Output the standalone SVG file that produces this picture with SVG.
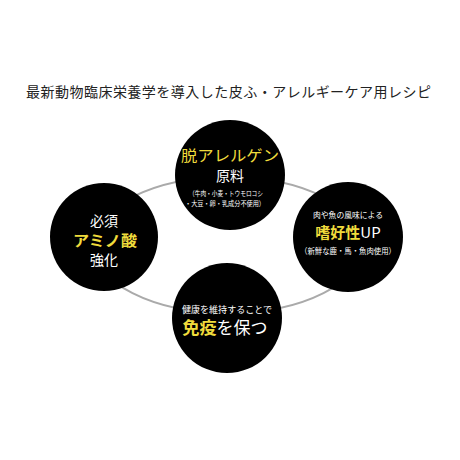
<svg xmlns="http://www.w3.org/2000/svg" width="460" height="460" viewBox="0 0 460 460">
<style>
text{font-family:"Noto Sans CJK JP","Noto Sans",sans-serif;text-anchor:middle}
.c{fill:#000}
.w{fill:#fff}
.y{fill:#f0dc3c}
.t{fill:#222;font-size:14px;text-anchor:start}
</style>
<rect width="460" height="460" fill="#fff"/>
<text class="t" x="26" y="97" textLength="405" lengthAdjust="spacing">最新動物臨床栄養学を導入した皮ふ・アレルギーケア用レシピ</text>
<g id="connectors">
<ellipse cx="228" cy="245" rx="135" ry="68" fill="none" stroke="#aaa" stroke-width="2"/>
</g>
<g id="top">
<circle class="c" cx="230" cy="175" r="55"/>
<text class="y" x="230" y="161" font-size="15" textLength="98" lengthAdjust="spacingAndGlyphs">脱アレルゲン</text>
<text class="w" x="230" y="181" font-size="14">原料</text>
<text class="w" x="226" y="196" font-size="7" textLength="74" lengthAdjust="spacingAndGlyphs">（牛肉・小麦・トウモロコシ</text>
<text class="w" x="225" y="206" font-size="7" textLength="80" lengthAdjust="spacingAndGlyphs">・大豆・卵・乳成分不使用）</text>
</g>
<g id="right">
<circle class="c" cx="348" cy="237" r="55"/>
<text class="w" x="348" y="218" font-size="8" textLength="70" lengthAdjust="spacingAndGlyphs">肉や魚の風味による</text>
<text x="348" y="238" font-size="15" font-weight="bold"><tspan class="y">嗜好性</tspan><tspan class="w" font-weight="normal">UP</tspan></text>
<text class="w" x="348" y="254" font-size="8" textLength="96" lengthAdjust="spacingAndGlyphs">（新鮮な鹿・馬・魚肉使用）</text>
</g>
<g id="left">
<circle class="c" cx="104" cy="237" r="54"/>
<text class="w" x="104" y="226" font-size="14">必須</text>
<text class="y" x="105" y="246" font-size="15" font-weight="bold" textLength="64" lengthAdjust="spacingAndGlyphs">アミノ酸</text>
<text class="w" x="104" y="265" font-size="14">強化</text>
</g>
<g id="bottom">
<circle class="c" cx="227" cy="318" r="55"/>
<text class="w" x="227" y="313" font-size="9" textLength="90" lengthAdjust="spacingAndGlyphs">健康を維持することで</text>
<text x="225" y="334" font-size="17"><tspan class="y" font-weight="bold">免疫</tspan><tspan class="w">を保つ</tspan></text>
</g>
</svg>
